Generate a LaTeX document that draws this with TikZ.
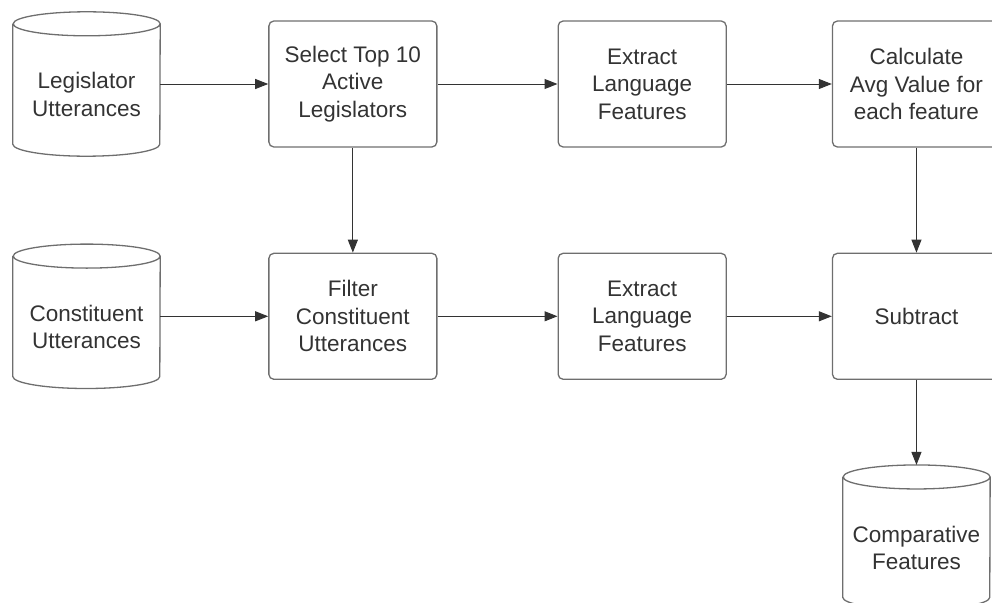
\documentclass[tikz,border=0pt]{standalone}
\usepackage{fontspec}
\setmainfont{Liberation Sans}
\usetikzlibrary{arrows.meta,positioning}
\definecolor{linegray}{HTML}{6E6E6E}
\definecolor{inkdark}{HTML}{333333}

\begin{document}
\begin{tikzpicture}[
  x=1pt, y=-1pt,
  >={Triangle[length=13pt,width=10pt]},
  every node/.style={font=\fontsize{22.5}{27.5}\selectfont, text=inkdark},
  stepbox/.style={draw=linegray, line width=1.3pt, rounded corners=5pt, align=center, minimum width=168pt, minimum height=126pt, inner sep=0pt},
  store/.style={align=center, text height=65pt, minimum width=147pt, minimum height=144pt, inner sep=0pt},
  storeline/.style={draw=linegray, line width=1.3pt},
  flow/.style={->, draw=inkdark, line width=1pt}
]
\useasboundingbox (0,0) rectangle (992,602);
% top row
\node[store] (legis) at (86.5,84) {Legislator\\Utterances};
\node[stepbox, right=108pt of legis] (select) {Select Top 10\\Active\\Legislators};
\node[stepbox, right=120pt of select] (extract1) {Extract\\Language\\Features};
\node[stepbox, right=105pt of extract1] (avg) {Calculate\\Avg Value for\\each feature};
% bottom row
\node[stepbox, below=105pt of select] (filter) {Filter\\Constituent\\Utterances};
\node[store, left=108pt of filter] (const) {Constituent\\Utterances};
\node[stepbox, right=120pt of filter] (extract2) {Extract\\Language\\Features};
\node[stepbox, right=105pt of extract2] (sub) {Subtract};
\node[store, below=85pt of sub] (comp) {Comparative\\Features};
% cylinder outlines
\foreach \n in {legis,const,comp}{
  \draw[storeline] ([yshift=-12pt]\n.north west) -- ([yshift=12pt]\n.south west)
    arc[start angle=180, end angle=360, x radius=73.5pt, y radius=12pt]
    -- ([yshift=-12pt]\n.north east)
    arc[start angle=0, end angle=180, x radius=73.5pt, y radius=12pt]
    arc[start angle=180, end angle=360, x radius=73.5pt, y radius=12pt];
}
\foreach \a/\b in {legis/select,select/extract1,extract1/avg,const/filter,filter/extract2,extract2/sub}{\draw[flow] (\a.east) -- (\b.west);}
\foreach \a/\b in {select/filter,avg/sub,sub/comp}{\draw[flow] (\a.south) -- (\b.north);}
\end{tikzpicture}
\end{document}
